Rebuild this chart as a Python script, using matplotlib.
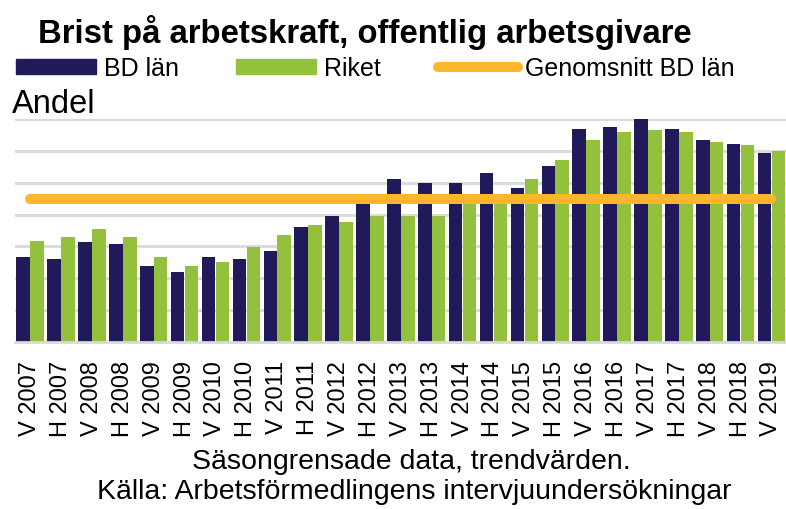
import numpy as np
import matplotlib
matplotlib.use("Agg")
import matplotlib.pyplot as plt
from matplotlib.patches import Patch
from matplotlib.lines import Line2D

plt.rcParams['font.family'] = ['Liberation Sans', 'DejaVu Sans']

# Data (andel)
perioder = ['V 2007', 'H 2007', 'V 2008', 'H 2008', 'V 2009', 'H 2009', 'V 2010',
            'H 2010', 'V 2011', 'H 2011', 'V 2012', 'H 2012', 'V 2013', 'H 2013',
            'V 2014', 'H 2014', 'V 2015', 'H 2015', 'V 2016', 'H 2016', 'V 2017',
            'H 2017', 'V 2018', 'H 2018', 'V 2019']
bd_lan = [2.68, 2.61, 3.13, 3.08, 2.39, 2.21, 2.68, 2.61, 2.85, 3.61, 3.95, 4.32, 5.13,
          5.00, 5.00, 5.29, 4.83, 5.53, 6.69, 6.74, 6.99, 6.69, 6.34, 6.23, 5.94]
riket = [3.18, 3.31, 3.55, 3.31, 2.67, 2.39, 2.51, 2.97, 3.37, 3.67, 3.78, 3.96, 3.96,
         3.96, 4.45, 4.45, 5.13, 5.71, 6.34, 6.58, 6.64, 6.58, 6.29, 6.17, 6.00]
genomsnitt_bd = [4.5] * len(perioder)

navy = '#201a5a'
green = '#94c13d'
orange = '#fbb62c'
grid_col = '#d9d9d9'

fig = plt.figure(figsize=(7.86, 5.10), dpi=100)
ax = fig.add_axes([15 / 786, 1 - 343 / 510, 1 - 15 / 786, (343 - 120) / 510])

x = np.arange(len(perioder))
w = 0.44
ax.bar(x - 0.225, bd_lan, width=w, color=navy, zorder=2)
ax.bar(x + 0.225, riket, width=w, color=green, zorder=2)
ax.plot(x, genomsnitt_bd, color=orange, lw=7.2, solid_capstyle='round', zorder=3)

ax.set_xlim(-0.49, 24.47)
ax.set_ylim(0, 7)
ax.set_yticks(range(0, 8))
ax.yaxis.grid(True, color=grid_col, lw=2, zorder=0)
ax.set_axisbelow(True)
ax.tick_params(axis='y', length=0, labelleft=False)
ax.tick_params(axis='x', length=0, pad=13)
ax.set_xticks(x)
ax.set_xticklabels(perioder, rotation=90, fontsize=17, va='top')
for s in ['left', 'right', 'top']:
    ax.spines[s].set_visible(False)
ax.spines['bottom'].set_color(grid_col)
ax.spines['bottom'].set_linewidth(2)

fig.text(38 / 786, 1 - 32 / 510, 'Brist på arbetskraft, offentlig arbetsgivare',
         fontsize=23.7, fontweight='bold', va='center', ha='left')
fig.text(12 / 786, 1 - 113 / 510, 'Andel', fontsize=23.5, va='baseline', ha='left')

handles = [Patch(color=navy), Patch(color=green),
           Line2D([], [], color=orange, lw=7.2, solid_capstyle='round')]
fig.legend(handles, ['BD län', 'Riket', 'Genomsnitt BD län'], ncol=3,
           loc='center left', bbox_to_anchor=(16 / 786, 1 - 69 / 510),
           frameon=False, fontsize=18, handlelength=3.2, handleheight=0.55,
           handletextpad=0.3, columnspacing=2.3, borderpad=0, borderaxespad=0)

fig.text(411 / 786, 1 - 462 / 510, 'Säsongrensade data, trendvärden.',
         fontsize=20.5, ha='center', va='center')
fig.text(414 / 786, 1 - 492 / 510, 'Källa: Arbetsförmedlingens intervjuundersökningar',
         fontsize=20.5, ha='center', va='center')

fig.savefig('out.png', dpi=100)
